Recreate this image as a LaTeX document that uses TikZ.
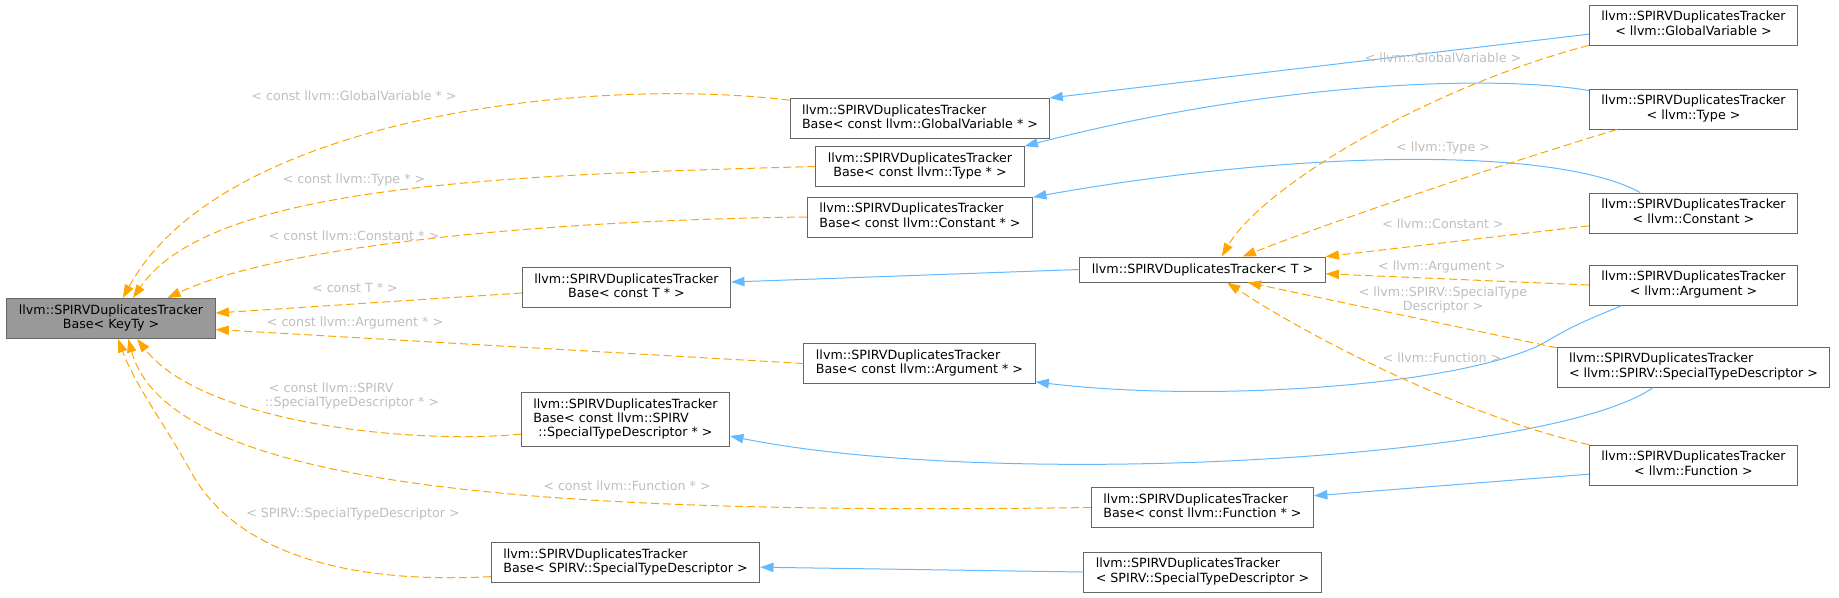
\documentclass[tikz,border=0pt]{standalone}
\usepackage{fontspec}
\setmainfont{DejaVu Sans}
\usepackage{tikz}
\usetikzlibrary{arrows.meta}
\definecolor{edgeblue}{HTML}{63B8FF}
\definecolor{edgeorange}{HTML}{FFA500}
\definecolor{labgray}{HTML}{BEBEBE}
\definecolor{boxline}{HTML}{666666}
\definecolor{curfill}{HTML}{999999}
\newcommand{\clsname}[2]{\begin{tabular}{@{}l@{}}#1\\\multicolumn{1}{@{}c@{}}{#2}\end{tabular}}
\tikzset{
  cls/.style={rectangle, draw=boxline, line width=0.75pt, fill=white, inner xsep=9pt,
              inner ysep=4.25pt, minimum height=18.75pt, font=\fontsize{9.5}{10.75}\selectfont},
  cur/.style={cls, fill=curfill},
  inh/.style={draw=edgeblue, line width=0.75pt, -{Triangle[length=10pt,width=7pt]}},
  tpl/.style={draw=edgeorange, line width=0.75pt, dash pattern=on 6pt off 3pt,
              -{Triangle[length=10pt,width=7pt]}},
  tlab/.style={text=labgray, font=\fontsize{9.5}{10.75}\selectfont, align=center, inner sep=0pt},
}

\begin{document}
\begin{tikzpicture}[x=0.75pt,y=-0.75pt]
  \useasboundingbox (0,0) rectangle (1839,597);
  \node[cur] (kt) at (111,318.5) {\clsname{llvm::SPIRVDuplicatesTracker}{Base< KeyTy >}};
  \node[cls] (bgv) at (920,118.5) {\clsname{llvm::SPIRVDuplicatesTracker}{Base< const llvm::GlobalVariable * >}};
  \node[cls] (bty) at (920,166.5) {\clsname{llvm::SPIRVDuplicatesTracker}{Base< const llvm::Type * >}};
  \node[cls] (bco) at (920,217) {\clsname{llvm::SPIRVDuplicatesTracker}{Base< const llvm::Constant * >}};
  \node[cls] (bt) at (626.5,287.5) {\clsname{llvm::SPIRVDuplicatesTracker}{Base< const T * >}};
  \node[cls] (bar) at (919.5,363.5) {\clsname{llvm::SPIRVDuplicatesTracker}{Base< const llvm::Argument * >}};
  \node[cls] (bsd) at (625.5,419.5) {\begin{tabular}{@{}l@{}}llvm::SPIRVDuplicatesTracker\\Base< const llvm::SPIRV\\
    \multicolumn{1}{@{}c@{}}{::SpecialTypeDescriptor * >}\end{tabular}};
  \node[cls] (bfu) at (1202.5,507.5) {\clsname{llvm::SPIRVDuplicatesTracker}{Base< const llvm::Function * >}};
  \node[cls] (bss) at (625.5,562.5) {\clsname{llvm::SPIRVDuplicatesTracker}{Base< SPIRV::SpecialTypeDescriptor >}};
  \node[cls] (tt) at (1202.5,269.5) {llvm::SPIRVDuplicatesTracker< T >};
  \node[cls] (dgv) at (1693.5,25) {\clsname{llvm::SPIRVDuplicatesTracker}{< llvm::GlobalVariable >}};
  \node[cls] (dty) at (1693.5,109) {\clsname{llvm::SPIRVDuplicatesTracker}{< llvm::Type >}};
  \node[cls] (dco) at (1693.5,213) {\clsname{llvm::SPIRVDuplicatesTracker}{< llvm::Constant >}};
  \node[cls] (dar) at (1693.5,285) {\clsname{llvm::SPIRVDuplicatesTracker}{< llvm::Argument >}};
  \node[cls] (dsd) at (1693.5,367) {\clsname{llvm::SPIRVDuplicatesTracker}{< llvm::SPIRV::SpecialTypeDescriptor >}};
  \node[cls] (dfu) at (1693.5,465) {\clsname{llvm::SPIRVDuplicatesTracker}{< llvm::Function >}};
  \node[cls] (dss) at (1202.5,572) {\clsname{llvm::SPIRVDuplicatesTracker}{< SPIRV::SpecialTypeDescriptor >}};

  \draw[inh] (dgv.185) -- (bgv.9);
  \draw[inh] (dty.170) .. controls (1500,75) and (1280,80) .. (bty.11);
  \draw[inh] (dco.159) .. controls (1560,148) and (1310,148) .. (bco.10);
  \draw[inh] (tt.west) -- (bt.3);
  \draw[inh] (dar.196) .. controls (1575,325) .. (1540,345) .. controls (1450,388) and (1200,402) .. (bar.-9);
  \draw[inh] (dsd.207) .. controls (1550,460) and (1000,490) .. (bsd.-9);
  \draw[inh] (dfu.185) -- (bfu.6);
  \draw[inh] (dss.west) -- (bss.-2);

  \draw[tpl] (bgv.172) .. controls (580,75) and (220,120) .. (kt.60);
  \draw[tpl] (bty.west) .. controls (500,175) and (210,185) .. (kt.43);
  \draw[tpl] (bco.west) .. controls (550,220) and (280,245) .. (kt.20);
  \draw[tpl] (bt.183) -- (kt.3);
  \draw[tpl] (bar.west) -- (kt.-6);
  \draw[tpl] (bsd.188) .. controls (400,445) and (200,420) .. (kt.-38);
  \draw[tpl] (bfu.west) .. controls (550,515) and (170,490) .. (kt.-50);
  \draw[tpl] (bss.186) .. controls (330,585) and (230,545) .. (190,470) .. controls (165,425) and (135,385) .. (kt.-71);

  \draw[tpl] (dgv.191) .. controls (1420,90) and (1260,190) .. (tt.34);
  \draw[tpl] (dty.195) .. controls (1500,165) and (1350,215) .. (tt.18);
  \draw[tpl] (dco.187) -- (tt.6);
  \draw[tpl] (dar.west) -- (tt.-2);
  \draw[tpl] (dsd.172) -- (tt.-16);
  \draw[tpl] (dfu.169) .. controls (1480,420) and (1330,350) .. (tt.-28);

  \node[tlab] (lgv) at (354,96) {< const llvm::GlobalVariable * >};
  \node[tlab] (lty) at (354,180) {< const llvm::Type * >};
  \node[tlab] (lco) at (354,236) {< const llvm::Constant * >};
  \node[tlab] (lt) at (355,288) {< const T * >};
  \node[tlab] (lar) at (355,323) {< const llvm::Argument * >};
  \node[tlab, align=left] (lsd) at (352,396) {\hspace*{3pt}< const llvm::SPIRV\\::SpecialTypeDescriptor * >};
  \node[tlab] (lfu) at (627,486) {< const llvm::Function * >};
  \node[tlab] (lss) at (353,514) {< SPIRV::SpecialTypeDescriptor >};
  \node[tlab] (tgv) at (1443,58) {< llvm::GlobalVariable >};
  \node[tlab] (tty) at (1443,148) {< llvm::Type >};
  \node[tlab] (tco) at (1443,224) {< llvm::Constant >};
  \node[tlab] (tar) at (1442,267) {< llvm::Argument >};
  \node[tlab] (tsd) at (1443,300) {< llvm::SPIRV::SpecialType\\Descriptor >};
  \node[tlab] (tfu) at (1442,358) {< llvm::Function >};
\end{tikzpicture}
\end{document}
